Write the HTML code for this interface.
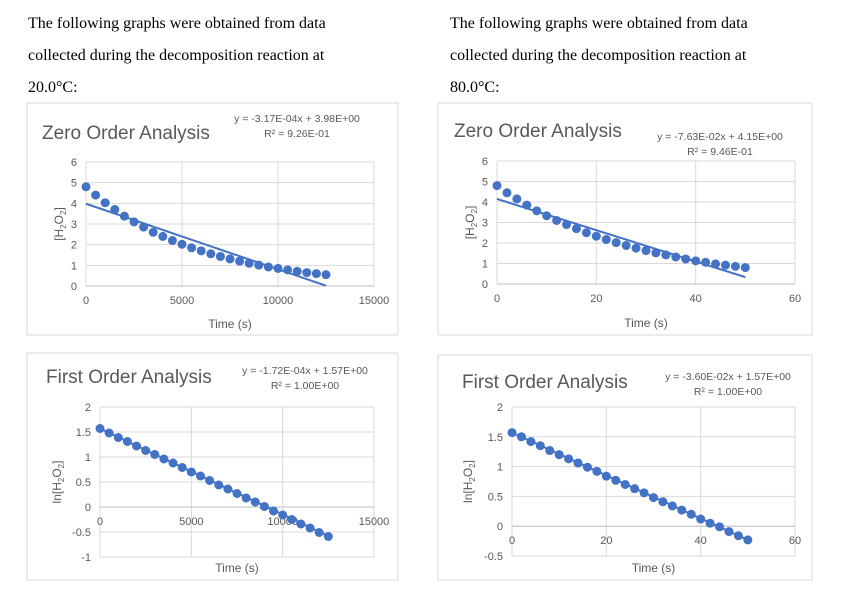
<!DOCTYPE html>
<html><head><meta charset="utf-8">
<style>
body{margin:0;background:#fff;width:846px;height:592px;overflow:hidden;position:relative;font-family:"Liberation Serif",serif;}
.p{position:absolute;font-size:16px;color:#000;line-height:32px;}
svg{position:absolute;left:0;top:0;}
</style></head><body>
<div class="p" style="left:28px;top:8px;width:380px">The following graphs were obtained from data<br>collected during the decomposition reaction at<br>20.0°C:</div>
<div class="p" style="left:450px;top:8px;width:390px">The following graphs were obtained from data<br>collected during the decomposition reaction at<br>80.0°C:</div>
<svg id="svg" width="846" height="592"></svg>
<script>
const timeLeft=[0,500,1000,1500,2000,2500,3000,3500,4000,4500,5000,5500,6000,6500,7000,7500,8000,8500,9000,9500,10000,10500,11000,11500,12000,12500];
const zeroLeft=[4.8,4.4,4.03,3.7,3.38,3.1,2.85,2.6,2.4,2.2,2.02,1.85,1.7,1.56,1.43,1.31,1.2,1.1,1.01,0.92,0.85,0.78,0.71,0.65,0.6,0.55];
const firstLeft=[1.57,1.48,1.39,1.31,1.22,1.13,1.05,0.96,0.88,0.79,0.70,0.62,0.53,0.44,0.36,0.27,0.18,0.10,0.01,-0.08,-0.16,-0.25,-0.34,-0.42,-0.51,-0.59];
const timeRight=[0,2,4,6,8,10,12,14,16,18,20,22,24,26,28,30,32,34,36,38,40,42,44,46,48,50];
const zeroRight=[4.8,4.45,4.15,3.85,3.57,3.33,3.1,2.9,2.7,2.5,2.33,2.17,2.02,1.88,1.75,1.63,1.52,1.42,1.32,1.22,1.13,1.06,0.98,0.92,0.86,0.8];
const firstRight=[1.57,1.5,1.42,1.35,1.27,1.2,1.13,1.06,0.99,0.92,0.84,0.77,0.7,0.63,0.56,0.48,0.41,0.34,0.27,0.2,0.12,0.05,-0.01,-0.09,-0.16,-0.23];
const xTicksLeft=[0,5000,10000,15000];
const xTicksRight=[0,20,40,60];
const yTicksZero=[0,1,2,3,4,5,6];
const yTicksFirstLeft=[-1,-0.5,0,0.5,1,1.5,2];
const yTicksFirstRight=[-0.5,0,0.5,1,1.5,2];
const fits=[{m:-3.17e-4,b:3.98},{m:-1.72e-4,b:1.57},{m:-7.63e-2,b:4.15},{m:-3.60e-2,b:1.57}];
const NS="http://www.w3.org/2000/svg";
const svg=document.getElementById('svg');
function mk(t,a,p){const e=document.createElementNS(NS,t);for(const k in a)e.setAttribute(k,a[k]);(p||svg).appendChild(e);return e;}
const F='"Liberation Sans",sans-serif';
function chart(c){
  const g=mk('g',{});
  
  
  const box=mk('rect',{x:c.box[0],y:c.box[1],width:c.box[2],height:c.box[3],fill:'#fff',stroke:'#d9d9d9','stroke-width':1},g);
  
  const xs=v=>c.px0+(v-c.xmin)/(c.xmax-c.xmin)*(c.px1-c.px0);
  const ys=v=>c.py1-(v-c.ymin)/(c.ymax-c.ymin)*(c.py1-c.py0);
  c.xt.forEach(v=>{const l=mk('line',{x1:xs(v),x2:xs(v),y1:c.py0,y2:c.py1,stroke:'#d9d9d9'},g);});
  c.yt.forEach(v=>{const l=mk('line',{x1:c.px0,x2:c.px1,y1:ys(v),y2:ys(v),stroke:'#d9d9d9'},g);
    const t=mk('text',{x:c.px0-9,y:ys(v)+4,'text-anchor':'end','font-size':11,fill:'#595959','font-family':F},g);t.textContent=v;});
  const ax=mk('line',{x1:c.px0,x2:c.px1,y1:ys(0),y2:ys(0),stroke:'#bfbfbf'},g);
  const ay=ys(0)+18;
  c.xt.forEach(v=>{const t=mk('text',{x:xs(v),y:ay,'text-anchor':'middle','font-size':11,fill:'#595959','font-family':F},g);t.textContent=v;});
  const xa=c.x[0],xb=c.x[c.x.length-1];
  const fl=mk('line',{x1:xs(xa),y1:ys(c.fit.m*xa+c.fit.b),x2:xs(xb),y2:ys(c.fit.m*xb+c.fit.b),stroke:'#4472c4','stroke-width':2},g);
  
  c.x.forEach((v,i)=>{const p=mk('circle',{cx:xs(v),cy:ys(c.y[i]),r:4.5,fill:'#4472c4'},g);});
  const tt=mk('text',{x:c.title[0],y:c.title[1],'font-size':19,fill:'#595959','font-family':F},g);tt.textContent=c.titleText;
  const e1=mk('text',{x:c.eq[0],y:c.eq[1],'text-anchor':'middle','font-size':10.5,fill:'#595959','font-family':F},g);e1.textContent=c.eqText;
  const e2=mk('text',{x:c.eq[0],y:c.eq[1]+15,'text-anchor':'middle','font-size':10.5,fill:'#595959','font-family':F},g);e2.textContent=c.r2Text;
  const xl=mk('text',{x:(c.px0+c.px1)/2,y:c.xlY,'text-anchor':'middle','font-size':12,fill:'#595959','font-family':F},g);xl.textContent='Time (s)';
  const yl=mk('text',{x:0,y:0,'text-anchor':'middle','font-size':12,fill:'#595959','font-family':F,transform:`translate(${c.ylX},${(c.py0+c.py1)/2}) rotate(-90)`},g);
  yl.innerHTML=c.yPre+'[H<tspan font-size="8" dy="3">2</tspan><tspan dy="-3">O</tspan><tspan font-size="8" dy="3">2</tspan><tspan dy="-3">]</tspan>';
  
}
chart({name:'zero-order-20c',box:[27,103,371,232],px0:86,px1:374,py0:162,py1:286,xmin:0,xmax:15000,ymin:0,ymax:6,xt:xTicksLeft,yt:yTicksZero,x:timeLeft,y:zeroLeft,fit:fits[0],title:[42,139],titleText:'Zero Order Analysis',eq:[297,122],eqText:'y = -3.17E-04x + 3.98E+00',r2Text:'R² = 9.26E-01',xlY:328,ylX:63,yPre:''});
chart({name:'first-order-20c',box:[27,353,371,227],px0:100,px1:374,py0:407,py1:557,xmin:0,xmax:15000,ymin:-1,ymax:2,xt:xTicksLeft,yt:yTicksFirstLeft,x:timeLeft,y:firstLeft,fit:fits[1],title:[46,383],titleText:'First Order Analysis',eq:[305,374],eqText:'y = -1.72E-04x + 1.57E+00',r2Text:'R² = 1.00E+00',xlY:572,ylX:61,yPre:'ln'});
chart({name:'zero-order-80c',box:[438,103,374,232],px0:497,px1:795,py0:161,py1:284,xmin:0,xmax:60,ymin:0,ymax:6,xt:xTicksRight,yt:yTicksZero,x:timeRight,y:zeroRight,fit:fits[2],title:[454,137],titleText:'Zero Order Analysis',eq:[720,140],eqText:'y = -7.63E-02x + 4.15E+00',r2Text:'R² = 9.46E-01',xlY:327,ylX:474,yPre:''});
chart({name:'first-order-80c',box:[438,355,374,225],px0:512,px1:795,py0:407,py1:556,xmin:0,xmax:60,ymin:-0.5,ymax:2,xt:xTicksRight,yt:yTicksFirstRight,x:timeRight,y:firstRight,fit:fits[3],title:[462,388],titleText:'First Order Analysis',eq:[728,380],eqText:'y = -3.60E-02x + 1.57E+00',r2Text:'R² = 1.00E+00',xlY:572,ylX:472,yPre:'ln'});
</script>
</body></html>
